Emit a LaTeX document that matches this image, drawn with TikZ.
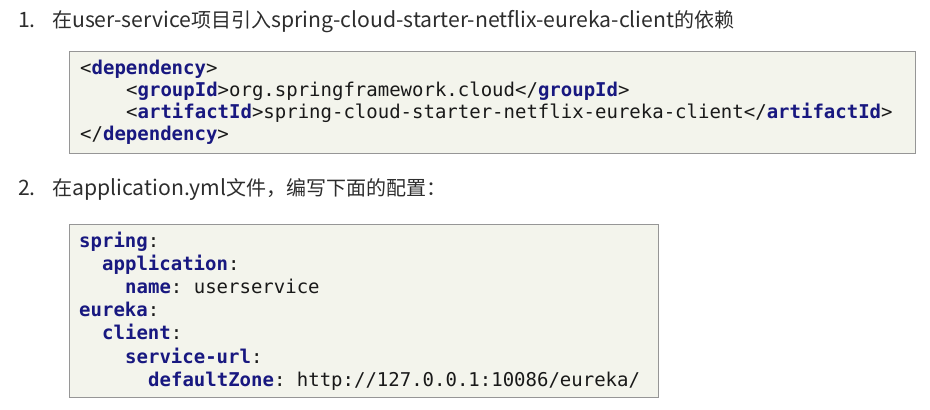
\documentclass[tikz,border=0pt]{standalone}
\usepackage{fontspec}
\setmainfont{Noto Sans CJK SC}
\newfontfamily\cjkfont{Noto Sans CJK SC}
\newfontfamily\latfont{Noto Sans CJK SC}[Scale=1.06]
\newfontfamily\codefont{DejaVu Sans Mono}
\definecolor{kwblue}{RGB}{24,24,128}
\definecolor{boxfill}{RGB}{243,244,236}
\definecolor{boxline}{RGB}{150,150,150}
\definecolor{titlecol}{RGB}{45,45,45}
\definecolor{codecol}{RGB}{25,25,25}
\newcommand\kw[1]{\textcolor{kwblue}{\bfseries #1}}
\newcommand\lat[1]{{\latfont #1}}
\frenchspacing
\begin{document}
\begin{tikzpicture}[x=1pt,y=-1pt,
  titletext/.style={anchor=base west,inner sep=0pt,text=titlecol,font=\cjkfont\fontsize{20}{24}\selectfont},
  codeline/.style={anchor=base west,inner sep=0pt,text=codecol,font=\codefont\fontsize{19}{22}\selectfont\frenchspacing},
  codebox/.style={draw=boxline,fill=boxfill,line width=1pt,anchor=north west,inner sep=0pt}]
\useasboundingbox (0,0) rectangle (930,410);
% item 1
\node[titletext] (n1) at (18,27) {\lat{1.}};
\node[titletext] (t1) at (52,27) {在\lat{user-service}项目引入\lat{spring-cloud-starter-netflix-eureka-client}的依赖};
\node[codebox,minimum width=846pt,minimum height=102pt] (box1) at (69,51) {};
\node[codeline] (a1) at (80,74) {<\kw{dependency}>};
\node[codeline] (a2) at (126,96) {<\kw{groupId}>org.springframework.cloud</\kw{groupId}>};
\node[codeline] (a3) at (126,118) {<\kw{artifactId}>spring-cloud-starter-netflix-eureka-client</\kw{artifactId}>};
\node[codeline] (a4) at (80,140) {</\kw{dependency}>};
% item 2
\node[titletext] (n2) at (18,195) {\lat{2.}};
\node[titletext] (t2) at (52,195) {在\lat{application.yml}文件，编写下面的配置：};
\node[codebox,minimum width=589pt,minimum height=173pt] (box2) at (69,224) {};
\node[codeline] (y1) at (79,247) {\kw{spring}:};
\node[codeline] (y2) at (102,270.2) {\kw{application}:};
\node[codeline] (y3) at (125,293.4) {\kw{name}: userservice};
\node[codeline] (y4) at (79,316.6) {\kw{eureka}:};
\node[codeline] (y5) at (102,339.8) {\kw{client}:};
\node[codeline] (y6) at (125,363) {\kw{service-url}:};
\node[codeline] (y7) at (148,386.2) {\kw{defaultZone}: http://127.0.0.1:10086/eureka/};
\end{tikzpicture}
\end{document}
